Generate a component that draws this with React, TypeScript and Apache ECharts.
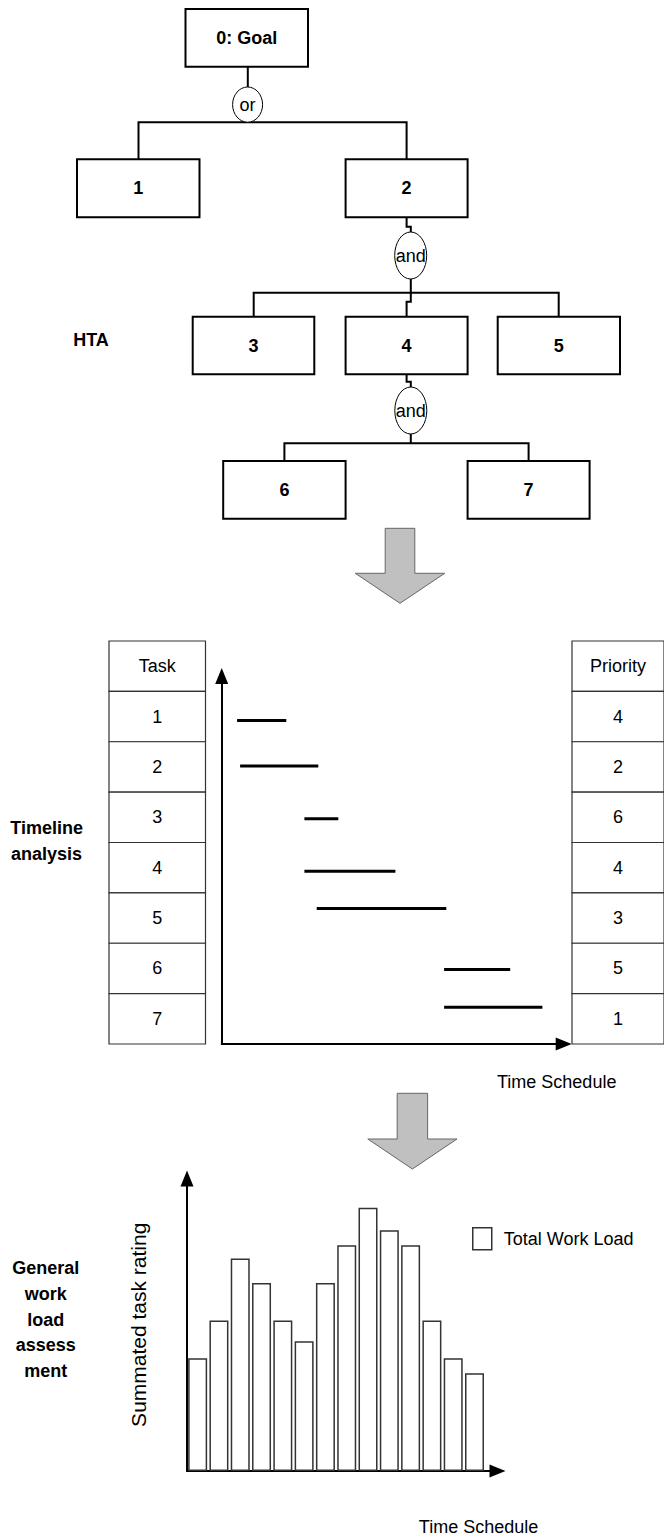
import React, { useEffect, useRef } from 'react';
import * as echarts from 'echarts';

const FONT = '"Liberation Sans", Arial, Helvetica, sans-serif';

// ---- HTA tree labels ----
const goalLabel = '0: Goal';
const level1Tasks = ['1', '2'];
const level2Tasks = ['3', '4', '5'];
const level3Tasks = ['6', '7'];
const gateLabels = ['or', 'and', 'and'];

// ---- Timeline analysis ----
const taskHeader = 'Task';
const taskIds = ['1', '2', '3', '4', '5', '6', '7'];
const priorityHeader = 'Priority';
const priorities = [4, 2, 6, 4, 3, 5, 1];
const taskStart = [1.54, 1.84, 8.27, 8.27, 9.5, 22.24, 22.24];
const taskEnd = [6.46, 9.66, 11.66, 17.37, 22.46, 28.85, 32.07];
const taskLevel = [6.42, 5.52, 4.47, 3.43, 2.69, 1.48, 0.73];

// ---- General work load assessment ----
const workLoad = [6, 8, 11.3, 10, 8, 6.9, 10, 12, 14, 12.8, 12, 8, 6, 5.2];
const workLoadName = 'Total Work Load';

const sideLabels = ['HTA', 'Timeline\nanalysis', 'General\nwork\nload\nassess\nment'];
const timeAxisName = 'Time Schedule';
const ratingAxisName = 'Summated task rating';

function label(x: number, y: number, text: string, bold: boolean, lineHeight = 26) {
  return {
    type: 'text',
    z: 20,
    x, y,
    style: {
      text,
      font: `${bold ? 'bold ' : ''}18px ${FONT}`,
      fill: '#000',
      align: 'center', verticalAlign: 'middle',
      textAlign: 'center', textVerticalAlign: 'middle',
      lineHeight,
    },
  };
}
function box(x: number, y: number, w: number, h: number, text: string) {
  return [
    {
      type: 'rect',
      z: 10,
      shape: { x, y, width: w, height: h },
      style: { fill: '#fff', stroke: '#000', lineWidth: 2 },
    },
    label(x + w / 2, y + h / 2, text, true),
  ];
}
function gate(cx: number, cy: number, rx: number, ry: number, text: string) {
  return [
    {
      type: 'ellipse',
      z: 10,
      shape: { cx, cy, rx, ry },
      style: { fill: '#fff', stroke: '#000', lineWidth: 1 },
    },
    label(cx, cy, text, false),
  ];
}
function wire(points: number[][]) {
  return {
    type: 'polyline',
    z: 5,
    shape: { points },
    style: { stroke: '#000', lineWidth: 2, fill: 'none' },
  };
}
function bigArrow(cx: number, top: number, shoulder: number, tip: number, shaftHalf: number, headHalf: number) {
  return {
    type: 'polygon',
    shape: {
      points: [
        [cx - shaftHalf, top], [cx + shaftHalf, top], [cx + shaftHalf, shoulder], [cx + headHalf, shoulder],
        [cx, tip], [cx - headHalf, shoulder], [cx - shaftHalf, shoulder],
      ],
    },
    style: { fill: '#c0c0c0', stroke: '#666', lineWidth: 1 },
  };
}

function tableSeries(gridIdx: number, labels: string[], name: string) {
  return {
    type: 'custom',
    name,
    xAxisIndex: gridIdx,
    yAxisIndex: gridIdx,
    data: labels.map((_, i) => [0.5, i]),
    renderItem: (params: any, api: any) => {
      const idx = params.dataIndex;
      const c = api.coord([0.5, idx]);
      const s = api.size([1, 1]);
      return {
        type: 'rect',
        shape: { x: c[0] - s[0] / 2, y: c[1] - s[1] / 2, width: s[0], height: s[1] },
        style: { fill: '#fff', stroke: '#333', lineWidth: 1.2 },
        textContent: { style: { text: labels[idx], font: `18px ${FONT}`, fill: '#000' } },
        textConfig: { position: 'inside' },
      };
    },
  };
}

const arrowAxisLine = {
  show: true,
  onZero: false,
  symbol: ['none', 'triangle'],
  symbolSize: [13, 16],
  lineStyle: { color: '#000', width: 2 },
};

export default function App() {
  const ref = useRef<HTMLDivElement>(null);
  useEffect(() => {
    if (!ref.current) return;
    const chart = echarts.init(ref.current, undefined, { renderer: 'svg' });

    const taskRows = [taskHeader, ...taskIds];
    const prioRows = [priorityHeader, ...priorities.map(String)];

    const graphic: any[] = [
      // tree wires
      wire([[247.8, 66.7], [247.8, 87]]),
      wire([[138.5, 159.3], [138.5, 122.3], [406.6, 122.3], [406.6, 159.3]]),
      wire([[406.6, 217.3], [406.6, 226.7], [410.8, 226.7], [410.8, 232]]),
      wire([[410.8, 279], [410.8, 301.7], [406.6, 301.7], [406.6, 316.7]]),
      wire([[253.7, 316.7], [253.7, 292.7], [558.7, 292.7], [558.7, 316.7]]),
      wire([[406.6, 374.3], [406.6, 381.7], [410.8, 381.7], [410.8, 387]]),
      wire([[410.8, 434], [410.8, 443.3]]),
      wire([[284.4, 461], [284.4, 443.3], [528.6, 443.3], [528.6, 461]]),
      // boxes
      ...box(185.5, 9, 122.5, 57.7, goalLabel),
      ...box(77, 159.3, 122.5, 58, level1Tasks[0]),
      ...box(345.6, 159.3, 122, 58, level1Tasks[1]),
      ...box(192.7, 316.7, 121.6, 57.6, level2Tasks[0]),
      ...box(345.6, 316.7, 122, 57.6, level2Tasks[1]),
      ...box(497.7, 316.7, 122.3, 57.6, level2Tasks[2]),
      ...box(223.2, 461, 122.4, 57.7, level3Tasks[0]),
      ...box(467.6, 461, 122, 57.7, level3Tasks[1]),
      // gates
      ...gate(247.6, 104.6, 15, 17.6, gateLabels[0]),
      ...gate(410.7, 255.5, 16, 23.5, gateLabels[1]),
      ...gate(410.8, 410.5, 16, 23.5, gateLabels[2]),
      // flow arrows
      bigArrow(400, 528.3, 573.3, 603.3, 14.8, 44.7),
      bigArrow(412.4, 1093.3, 1139, 1169, 15.2, 44.6),
      // side labels
      label(91, 339.5, sideLabels[0], true),
      label(46.6, 841, sideLabels[1], true, 26),
      label(45.7, 1319.5, sideLabels[2], true, 25.75),
      label(556.7, 1082, timeAxisName, false),
      label(478.5, 1526.7, timeAxisName, false),
    ];

    chart.setOption({
      animation: false,
      backgroundColor: '#fff',
      textStyle: { fontFamily: FONT },
      grid: [
        { left: 109, top: 641, width: 96.5, height: 403 },
        { left: 572, top: 641, width: 96.5, height: 403 },
        { left: 221.7, top: 676, width: 342, height: 368 },
        { left: 187, top: 1178.5, width: 310.5, height: 292.5 },
      ],
      xAxis: [
        { gridIndex: 0, type: 'value', min: 0, max: 1, show: false },
        { gridIndex: 1, type: 'value', min: 0, max: 1, show: false },
        {
          gridIndex: 2, type: 'value', min: 0, max: 34.2,
          axisLine: arrowAxisLine, axisTick: { show: false }, axisLabel: { show: false }, splitLine: { show: false },
        },
        {
          gridIndex: 3, type: 'value', min: 0, max: 14.58,
          axisLine: arrowAxisLine, axisTick: { show: false }, axisLabel: { show: false }, splitLine: { show: false },
        },
      ],
      yAxis: [
        { gridIndex: 0, type: 'category', data: taskRows, inverse: true, show: false },
        { gridIndex: 1, type: 'category', data: prioRows, inverse: true, show: false },
        {
          gridIndex: 2, type: 'value', min: 0, max: 7.305,
          axisLine: arrowAxisLine, axisTick: { show: false }, axisLabel: { show: false }, splitLine: { show: false },
        },
        {
          gridIndex: 3, type: 'value', min: 0, max: 15.55,
          name: ratingAxisName, nameLocation: 'middle', nameGap: 38, nameRotate: 90,
          nameTextStyle: { fontSize: 21, color: '#000', fontFamily: FONT },
          axisLine: arrowAxisLine, axisTick: { show: false }, axisLabel: { show: false }, splitLine: { show: false },
        },
      ],
      legend: {
        data: [workLoadName],
        left: 467,
        top: 1222,
        itemWidth: 19,
        itemHeight: 22,
        icon: 'rect',
        itemStyle: { color: '#fff', borderColor: '#333', borderWidth: 1.5 },
        textStyle: { fontSize: 18, color: '#000', fontFamily: FONT, padding: [0, 0, 0, 7] },
      },
      series: [
        tableSeries(0, taskRows, 'taskTable'),
        tableSeries(1, prioRows, 'priorityTable'),
        {
          type: 'custom',
          name: 'timeline',
          xAxisIndex: 2,
          yAxisIndex: 2,
          data: taskStart.map((s, i) => [s, taskEnd[i], taskLevel[i]]),
          encode: { x: [0, 1], y: 2 },
          renderItem: (params: any, api: any) => {
            const p1 = api.coord([api.value(0), api.value(2)]);
            const p2 = api.coord([api.value(1), api.value(2)]);
            return {
              type: 'line',
              shape: { x1: p1[0], y1: p1[1], x2: p2[0], y2: p2[1] },
              style: { stroke: '#000', lineWidth: 3 },
            };
          },
        },
        {
          type: 'bar',
          name: workLoadName,
          xAxisIndex: 3,
          yAxisIndex: 3,
          barWidth: 19,
          data: workLoad.map((v, i) => [i + 0.5, v]),
          itemStyle: { color: '#fff', borderColor: '#333', borderWidth: 1.5 },
        },
      ],
      graphic,
    });

    return () => chart.dispose();
  }, []);

  return (
    <div
      ref={ref}
      style={{ position: 'absolute', left: 0, top: 0, width: 664, height: 1538, background: '#fff' }}
    />
  );
}
